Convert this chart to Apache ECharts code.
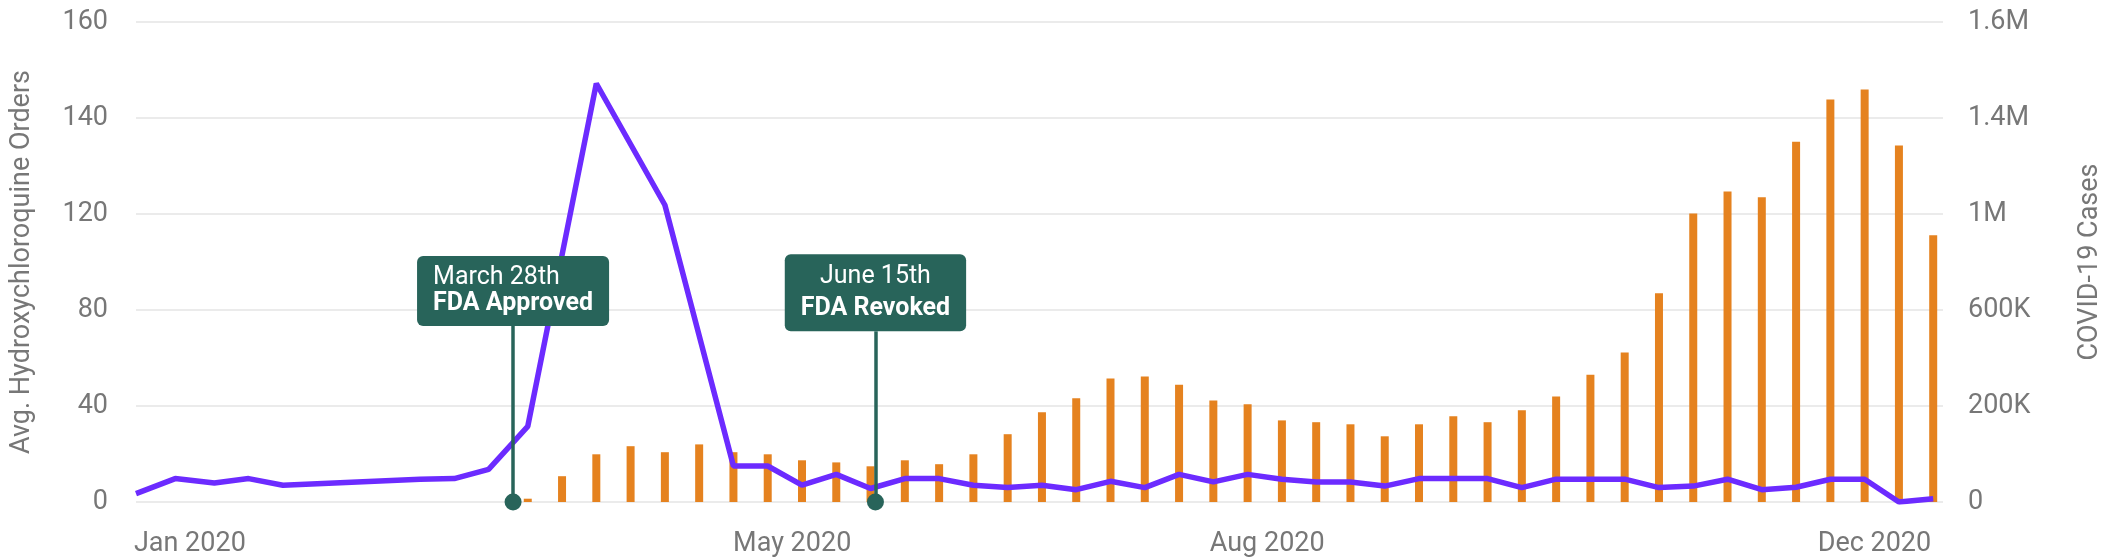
<!DOCTYPE html>
<html>
<head>
<meta charset="utf-8">
<title>Hydroxychloroquine orders and COVID-19 cases, 2020</title>
<script src="https://cdn.jsdelivr.net/npm/echarts@6/dist/echarts.min.js"></script>
<style>
  html, body { margin: 0; padding: 0; background: #fff; }
  #chart { width: 2112px; height: 560px; }
</style>
</head>
<body>
<div id="chart"></div>
<script>
// purple line: avg. orders (position on the 0-160 scale)
const orderDates = [
  '2020-01-01', '2020-01-09', '2020-01-17', '2020-01-24', '2020-01-31', '2020-02-28',
  '2020-03-06', '2020-03-13', '2020-03-21', '2020-04-04', '2020-04-18',
  '2020-05-02', '2020-05-09', '2020-05-16', '2020-05-23', '2020-05-30',
  '2020-06-06', '2020-06-13', '2020-06-20', '2020-06-27',
  '2020-07-04', '2020-07-11', '2020-07-18', '2020-07-25',
  '2020-08-01', '2020-08-08', '2020-08-15', '2020-08-22', '2020-08-29',
  '2020-09-05', '2020-09-12', '2020-09-19', '2020-09-26',
  '2020-10-03', '2020-10-10', '2020-10-17', '2020-10-24', '2020-10-31',
  '2020-11-07', '2020-11-14', '2020-11-21', '2020-11-28',
  '2020-12-05', '2020-12-12', '2020-12-19', '2020-12-26', '2021-01-02'
];
const orderValues = [
  2.8, 7.8, 6.3, 7.8, 5.6, 7.6,
  7.8, 10.9, 25.2, 139.5, 99,
  12.0, 12.0, 5.6, 9.2, 4.5,
  7.8, 7.8, 5.6, 4.8,
  5.6, 4.1, 6.9, 4.8,
  9.2, 6.7, 9.2, 7.6, 6.7,
  6.7, 5.3, 7.8, 7.8,
  7.8, 4.8, 7.6, 7.6, 7.6,
  4.8, 5.3, 7.6, 4.1,
  4.9, 7.6, 7.6, 0, 1.1
];

// orange bars: weekly COVID-19 cases
const caseDates = [
  '2020-03-21', '2020-03-28', '2020-04-04', '2020-04-11', '2020-04-18', '2020-04-25',
  '2020-05-02', '2020-05-09', '2020-05-16', '2020-05-23', '2020-05-30',
  '2020-06-06', '2020-06-13', '2020-06-20', '2020-06-27',
  '2020-07-04', '2020-07-11', '2020-07-18', '2020-07-25',
  '2020-08-01', '2020-08-08', '2020-08-15', '2020-08-22', '2020-08-29',
  '2020-09-05', '2020-09-12', '2020-09-19', '2020-09-26',
  '2020-10-03', '2020-10-10', '2020-10-17', '2020-10-24', '2020-10-31',
  '2020-11-07', '2020-11-14', '2020-11-21', '2020-11-28',
  '2020-12-05', '2020-12-12', '2020-12-19', '2020-12-26', '2021-01-02'
];
const caseValues = [
  11000, 86000, 159000, 186000, 166000, 192000,
  166000, 159000, 139000, 132000, 119000,
  139000, 126000, 159000, 226000,
  299000, 346000, 412000, 418000,
  391000, 338000, 326000, 272000, 266000,
  259000, 219000, 259000, 286000,
  266000, 306000, 352000, 424000, 498000,
  696000, 962000, 1035000, 1016000,
  1201000, 1342000, 1375000, 1188000, 889000
];

const leftTicks = ['0', '40', '80', '120', '140', '160'];
const rightTicks = ['0', '200K', '600K', '1M', '1.4M', '1.6M'];
const monthTickDates = ['2020-01-12', '2020-05-14', '2020-08-19', '2020-12-21'];
const monthTicks = ['Jan 2020', 'May 2020', 'Aug 2020', 'Dec 2020'];

const eventDates = ['2020-03-18', '2020-05-31'];
const eventDays = ['March 28th', 'June 15th'];
const eventTitles = ['FDA Approved', 'FDA Revoked'];
const eventTops = [58.7, 56.9];

const FONT = 'Roboto, "Noto Sans", sans-serif';
const GREY = '#777777';
const GREEN = '#28645a';

const toTime = s => {
  const [y, m, d] = s.split('-').map(Number);
  return new Date(y, m - 1, d).getTime();
};
const monthTickTimes = monthTickDates.map(toTime);

const boxStyles = [
  { align: 'left', lineHeight: 26, padding: [9, 16, 9, 16] },
  { align: 'center', lineHeight: 32, padding: [6, 16, 7, 16] }
];

const markers = eventDates.map((d, i) => {
  const s = boxStyles[i];
  return [
    {
      coord: [toTime(d), 0],
      label: {
        show: true,
        position: 'end',
        distance: 0,
        formatter: '{day|' + eventDays[i] + '}\n{title|' + eventTitles[i] + '}',
        backgroundColor: GREEN,
        borderRadius: 6,
        padding: s.padding,
        rich: {
          day: { color: '#fff', fontFamily: FONT, fontSize: 25, lineHeight: s.lineHeight, align: s.align },
          title: { color: '#fff', fontFamily: FONT, fontSize: 25, fontWeight: 'bold', lineHeight: s.lineHeight, align: s.align }
        }
      }
    },
    { coord: [toTime(d), eventTops[i]] }
  ];
});

const chart = echarts.init(document.getElementById('chart'));
chart.setOption({
  animation: false,
  backgroundColor: '#fff',
  grid: { left: 136, right: 162, top: 22, bottom: 58 },
  xAxis: {
    // dates as timestamps on a plain value axis so the month labels can be placed
    type: 'value',
    min: toTime('2020-01-01'),
    max: toTime('2021-01-04'),
    axisLine: { show: false },
    axisTick: { show: false },
    splitLine: { show: false },
    axisLabel: {
      customValues: monthTickTimes,
      color: GREY,
      fontFamily: FONT,
      fontSize: 27,
      margin: 29,
      hideOverlap: false,
      formatter: v => {
        let best = 0;
        monthTickTimes.forEach((t, i) => {
          if (Math.abs(t - v) < Math.abs(monthTickTimes[best] - v)) best = i;
        });
        return monthTicks[best];
      }
    }
  },
  yAxis: [
    {
      type: 'value',
      min: 0,
      max: 160,
      interval: 32,
      name: 'Avg. Hydroxychloroquine Orders',
      nameLocation: 'middle',
      nameGap: 100,
      nameTextStyle: { color: GREY, fontFamily: FONT, fontSize: 27 },
      axisLine: { show: false },
      axisTick: { show: false },
      axisLabel: {
        color: GREY,
        fontFamily: FONT,
        fontSize: 27,
        margin: 28,
        formatter: v => leftTicks[Math.round(v / 32)]
      },
      splitLine: { lineStyle: { color: '#e5e5e5', width: 1.5 } }
    },
    {
      type: 'value',
      position: 'right',
      min: 0,
      max: 1600000,
      interval: 320000,
      name: 'COVID-19 Cases',
      nameLocation: 'middle',
      nameGap: 134,
      nameTextStyle: { color: GREY, fontFamily: FONT, fontSize: 27 },
      axisLine: { show: false },
      axisTick: { show: false },
      splitLine: { show: false },
      axisLabel: {
        color: GREY,
        fontFamily: FONT,
        fontSize: 27,
        margin: 25,
        formatter: v => rightTicks[Math.round(v / 320000)]
      }
    }
  ],
  series: [
    {
      name: 'COVID-19 Cases',
      type: 'bar',
      yAxisIndex: 1,
      barWidth: 8,
      itemStyle: { color: '#e5821f' },
      data: caseDates.map((d, i) => [toTime(d), caseValues[i]]),
      z: 2
    },
    {
      name: 'Avg. Hydroxychloroquine Orders',
      type: 'line',
      yAxisIndex: 0,
      symbol: 'none',
      lineStyle: { color: '#6c2bff', width: 5.5 },
      itemStyle: { color: '#6c2bff' },
      data: orderDates.map((d, i) => [toTime(d), orderValues[i]]),
      z: 3,
      markLine: {
        silent: true,
        animation: false,
        symbol: ['circle', 'none'],
        symbolSize: 17,
        lineStyle: { color: GREEN, width: 3.5, type: 'solid' },
        itemStyle: { color: GREEN },
        emphasis: { disabled: true },
        data: markers
      }
    }
  ]
});
</script>
</body>
</html>
